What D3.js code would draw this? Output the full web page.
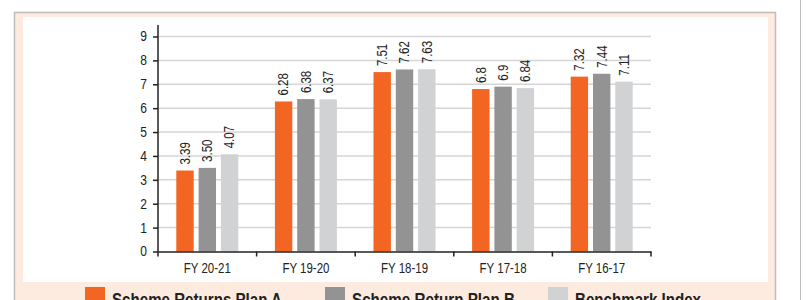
<!DOCTYPE html>
<html>
<head>
<meta charset="utf-8">
<script src="https://cdn.jsdelivr.net/npm/d3@7"></script>
<style>
body { margin: 0; background: #fff; }
svg { display: block; }
</style>
</head>
<body>
<script>
var categories = ["FY 20-21", "FY 19-20", "FY 18-19", "FY 17-18", "FY 16-17"];
var seriesNames = ["Scheme Returns Plan A", "Scheme Return Plan B", "Benchmark Index"];
var planA = [3.39, 6.28, 7.51, 6.8, 7.32];
var planB = [3.50, 6.38, 7.62, 6.9, 7.44];
var bench = [4.07, 6.37, 7.63, 6.84, 7.11];
var labelsA = ["3.39", "6.28", "7.51", "6.8", "7.32"];
var labelsB = ["3.50", "6.38", "7.62", "6.9", "7.44"];
var labelsC = ["4.07", "6.37", "7.63", "6.84", "7.11"];
var yTicks = [0, 1, 2, 3, 4, 5, 6, 7, 8, 9];

var colors = ["#f26522", "#939393", "#d1d2d4"];
var font = "'Liberation Sans', Arial, sans-serif";

// squeeze text like a condensed face
function condense(sel, f) {
    sel.each(function() {
        var len = this.getComputedTextLength();
        d3.select(this).attr("textLength", len * f).attr("lengthAdjust", "spacingAndGlyphs");
    });
}

var svg = d3.select("body").append("svg")
    .attr("width", 812)
    .attr("height", 300);

// frame
svg.append("rect").attr("x", 14.5).attr("y", 12.5).attr("width", 761).attr("height", 300)
    .attr("fill", "#fdebdf").attr("stroke", "#bdbdbd").attr("stroke-width", 1.5);
svg.append("rect").attr("x", 23).attr("y", 17).attr("width", 745).attr("height", 265)
    .attr("fill", "#fff");
svg.append("line").attr("x1", 800.5).attr("x2", 800.5).attr("y1", 0).attr("y2", 300)
    .attr("stroke", "#bdbdbd").attr("stroke-width", 1);

var x = d3.scaleBand().domain(categories).range([158, 651]);
var y = d3.scaleLinear().domain([0, 9]).range([251.5, 36.5]);
var xs = d3.scaleBand().domain([0, 1, 2]).range([0, 62]).paddingInner(0.22);
var groupOff = (x.bandwidth() - 62) / 2;

// gridlines
svg.append("g").selectAll("line").data(yTicks.slice(1)).enter().append("line")
    .attr("x1", 158).attr("x2", 651)
    .attr("y1", function(d) { return y(d); })
    .attr("y2", function(d) { return y(d); })
    .attr("stroke", "#d6d6d6").attr("stroke-width", 1.5);

var table = categories.map(function(c, i) {
    return { cat: c, vals: [planA[i], planB[i], bench[i]], labs: [labelsA[i], labelsB[i], labelsC[i]] };
});

var groups = svg.append("g").selectAll("g").data(table).enter().append("g")
    .attr("transform", function(d) { return "translate(" + (x(d.cat) + groupOff) + ",0)"; });

groups.selectAll("rect").data(function(d) { return d.vals; }).enter().append("rect")
    .attr("x", function(d, j) { return xs(j); })
    .attr("width", xs.bandwidth())
    .attr("y", function(d) { return y(d); })
    .attr("height", function(d) { return y(0) - y(d); })
    .attr("fill", function(d, j) { return colors[j]; });

var vl = groups.selectAll("text").data(function(d) { return d.vals.map(function(v, j) { return { v: v, l: d.labs[j], j: j }; }); })
    .enter().append("text")
    .attr("transform", function(d) {
        return "translate(" + (xs(d.j) + xs.bandwidth() / 2 + 4.8) + "," + (y(d.v) - 6) + ") rotate(-90)";
    })
    .attr("font-family", font).attr("font-size", 14).attr("fill", "#222")
    .text(function(d) { return d.l; });
condense(vl, 0.82);

// y axis
var yAxis = svg.append("g").attr("transform", "translate(158,0)")
    .call(d3.axisLeft(y).tickValues(yTicks).tickSize(5).tickPadding(6));
yAxis.select(".domain").remove();
yAxis.selectAll("line").attr("stroke", "#222").attr("stroke-width", 1.5);
yAxis.selectAll("text").attr("font-family", font).attr("font-size", 14).attr("fill", "#222");
condense(yAxis.selectAll("text"), 0.86);
svg.append("line").attr("x1", 158).attr("x2", 158).attr("y1", 25).attr("y2", 252)
    .attr("stroke", "#222").attr("stroke-width", 1.5);

// x axis
var xAxis = svg.append("g").attr("transform", "translate(0,251.5)")
    .call(d3.axisBottom(x).tickSize(0).tickPadding(12));
xAxis.select(".domain").attr("stroke", "#222").attr("stroke-width", 1.5);
xAxis.selectAll("text").attr("font-family", font).attr("font-size", 14).attr("fill", "#222");
condense(xAxis.selectAll("text"), 0.82);
svg.append("g").selectAll("line").data(categories.concat(["end"])).enter().append("line")
    .attr("x1", function(d, i) { return i < categories.length ? x(d) : x.range()[1]; })
    .attr("x2", function(d, i) { return i < categories.length ? x(d) : x.range()[1]; })
    .attr("y1", 251.5).attr("y2", 256.5)
    .attr("stroke", "#222").attr("stroke-width", 1.5);

// legend
var legX = [85, 325, 548];
var legW = [170, 163, 126];
var leg = svg.append("g").selectAll("g").data(seriesNames).enter().append("g")
    .attr("transform", function(d, i) { return "translate(" + legX[i] + ",287)"; });
leg.append("rect").attr("width", 20).attr("height", 20)
    .attr("fill", function(d, i) { return colors[i]; });
leg.append("text").attr("x", 27).attr("y", 18.5)
    .attr("font-family", font).attr("font-size", 18).attr("font-weight", "bold").attr("fill", "#222")
    .attr("textLength", function(d, i) { return legW[i]; })
    .attr("lengthAdjust", "spacingAndGlyphs")
    .text(function(d) { return d; });
</script>
</body>
</html>
